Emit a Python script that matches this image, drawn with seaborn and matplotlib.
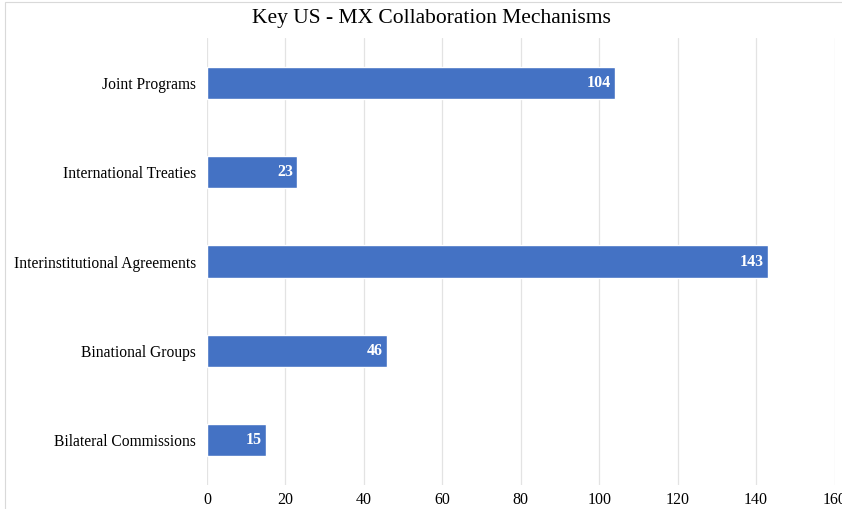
import matplotlib
matplotlib.use("Agg")
import matplotlib.pyplot as plt
import seaborn as sns
import pandas as pd
from matplotlib.patches import Rectangle

categories = ["Joint Programs", "International Treaties", "Interinstitutional Agreements",
              "Binational Groups", "Bilateral Commissions"]
counts = [104, 23, 143, 46, 15]
x_ticks = [0, 20, 40, 60, 80, 100, 120, 140, 160]

sns.set_theme(style="white")
plt.rcParams["font.family"] = ["Liberation Serif", "DejaVu Serif"]
plt.rcParams["text.color"] = "black"
plt.rcParams["xtick.color"] = "black"
plt.rcParams["ytick.color"] = "black"

df = pd.DataFrame({"mechanism": categories, "count": counts})

fig = plt.figure(figsize=(8.42, 5.09), dpi=100)
ax = fig.add_axes([207 / 842, 1 - 485 / 509, (834.5 - 207) / 842, (485 - 38) / 509])

sns.barplot(data=df, x="count", y="mechanism", orient="h", color="#4472C4",
            saturation=1, width=0.36, ax=ax, zorder=3)

ax.set_xlim(0, 160)
ax.set_xticks(x_ticks)
ax.set_xticklabels([str(t) for t in x_ticks], fontsize=11.5)
ax.xaxis.grid(True, color="#e3e3e3", linewidth=0.9, zorder=0)
ax.yaxis.grid(False)
for s in ax.spines.values():
    s.set_visible(False)
ax.tick_params(axis="y", length=0, pad=8, labelsize=11.2)
ax.tick_params(axis="x", length=0, pad=5)
ax.set_xlabel("")
ax.set_ylabel("")

for patch, v in zip(ax.patches, counts):
    y = patch.get_y() + patch.get_height() / 2
    ax.annotate(str(v), xy=(patch.get_width(), y), xytext=(-3, 0),
                textcoords="offset points", ha="right", va="center",
                color="white", fontweight="bold", fontsize=11.5, zorder=4)

fig.suptitle("Key US - MX Collaboration Mechanisms", fontsize=15.5, x=431.5 / 842,
             y=1 - 18 / 509, va="center", color="black")

# thin frame around the chart area
fig.patches.append(Rectangle((5 / 842, -0.05), 1.1, 1 - 1.5 / 509 + 0.05,
                             transform=fig.transFigure, fill=False,
                             edgecolor="#d9d9d9", linewidth=0.8))

fig.savefig("out.png", dpi=100)
